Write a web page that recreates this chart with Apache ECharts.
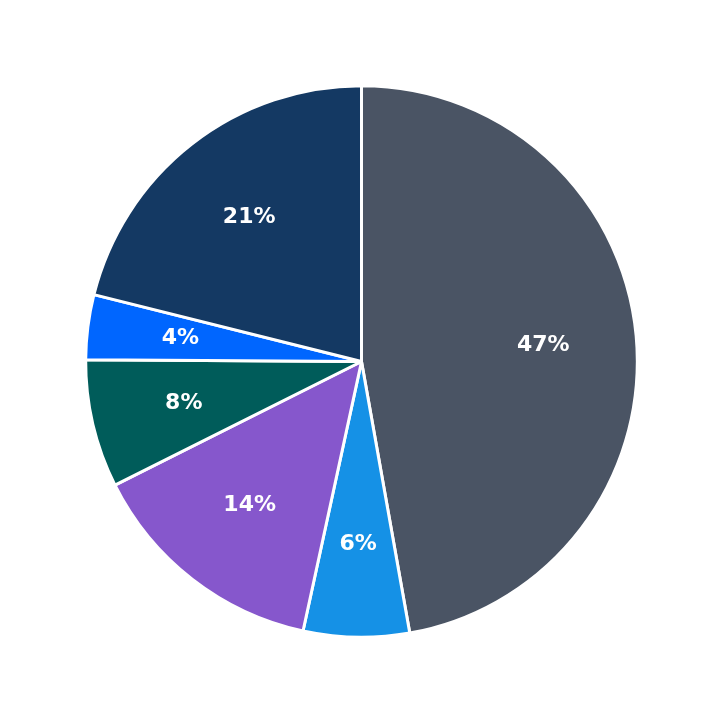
<!DOCTYPE html>
<html><head><meta charset="utf-8">
<script src="https://cdn.jsdelivr.net/npm/echarts@6/dist/echarts.min.js"></script>
<style>html,body{margin:0;background:#fff}#c{width:723px;height:723px}</style>
</head><body><div id="c"></div>
<script>
const categories = ['A','B','C','D','E','F'];
const values = [47.2, 6.2, 14.2, 7.5, 3.8, 21.1];
const labels = ['47%','6%','14%','8%','4%','21%'];
const colors = ['#4a5464','#1591e6','#8657cc','#005c5a','#0066ff','#143963'];
const data = categories.map((c,i)=>({name:c,value:values[i],itemStyle:{color:colors[i]}}));
const chart = echarts.init(document.getElementById('c'));
chart.setOption({
  animation:false,
  series:[
    {type:'pie',radius:['0%','76.3%'],center:['50%','50%'],startAngle:90,clockwise:true,
     itemStyle:{borderColor:'#fff',borderWidth:3},label:{show:false},labelLine:{show:false},
     data:data},
    {type:'pie',radius:['23%','76.3%'],center:['50%','50%'],startAngle:90,clockwise:true,silent:true,
     itemStyle:{color:'transparent',borderWidth:0},
     label:{show:true,position:'inside',color:'#fff',fontSize:22,fontWeight:'bold',fontFamily:'DejaVu Sans',
       formatter:p=>labels[p.dataIndex]},
     labelLine:{show:false},data:categories.map((c,i)=>({name:c,value:values[i]}))}
  ]
});
</script></body></html>
